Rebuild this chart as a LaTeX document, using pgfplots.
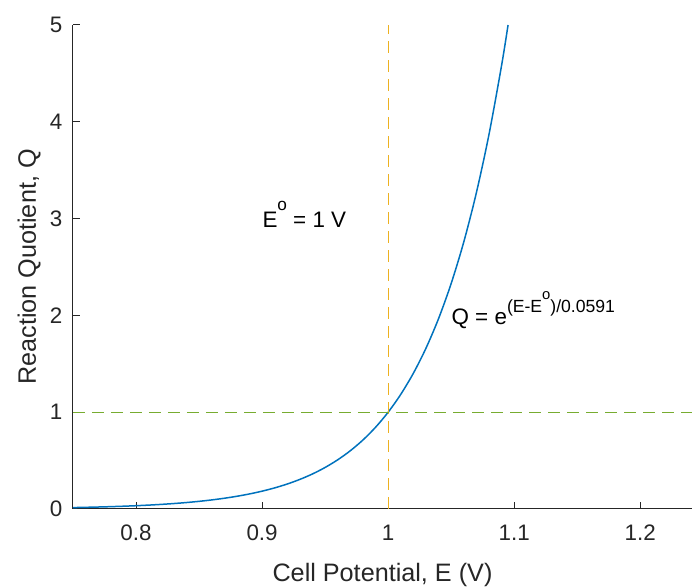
\documentclass[border=0pt]{standalone}
\usepackage{pgfplots}
\pgfplotsset{compat=1.18}
\usepackage{fontspec}
\setmainfont{Liberation Sans}

\definecolor{mblue}{rgb}{0,0.447,0.741}
\definecolor{morange}{rgb}{0.929,0.694,0.125}
\definecolor{mgreen}{rgb}{0.466,0.674,0.188}
\definecolor{axgray}{rgb}{0.15,0.15,0.15}

% raised text: size, raise, text
\newcommand\up[3]{\raisebox{#2}{\fontsize{#1}{#1}\selectfont #3}}

% Q = exp((E - E0)/0.0591) with E0 = 1 V
\pgfplotstableread{
E      Q
0.750  0.01455
0.760  0.01723
0.770  0.02041
0.780  0.02417
0.790  0.02863
0.800  0.03391
0.810  0.04016
0.820  0.04757
0.830  0.05634
0.840  0.06673
0.850  0.07903
0.860  0.09361
0.870  0.1109
0.880  0.1313
0.890  0.1555
0.900  0.1842
0.910  0.2181
0.920  0.2583
0.930  0.3059
0.940  0.3623
0.950  0.4291
0.960  0.5083
0.970  0.6020
0.980  0.7129
0.990  0.8443
1.000  1.0000
1.010  1.1844
1.020  1.4027
1.030  1.6613
1.040  1.9676
1.050  2.3303
1.060  2.7599
1.070  3.2687
1.080  3.8712
1.090  4.5850
1.0951 5.0000
}\nernst

\begin{document}
\begin{tikzpicture}
\path[use as bounding box] (-36.5pt,-39pt) rectangle (309.5pt,254.5pt);
\begin{axis}[
  scale only axis,
  width=309.5pt, height=242pt,
  xmin=0.75, xmax=1.241,
  ymin=0, ymax=5,
  axis x line*=bottom, axis y line*=left,
  axis line style={axgray, line width=0.5pt, -},
  tick align=inside,
  major tick length=3.3pt,
  tick style={axgray, line width=0.5pt},
  xtick={0.8,0.9,1,1.1,1.2},
  ytick={0,1,2,3,4,5},
  xticklabels={0.8,0.9,1,1.1,1.2},
  yticklabels={0,1,2,3,4,5},
  ticklabel style={font=\fontsize{11.2}{13}\selectfont, text=axgray},
  xticklabel style={yshift=-4.5pt},
  yticklabel style={xshift=-1.8pt},
  xlabel={Cell Potential, E (V)},
  ylabel={Reaction Quotient, Q},
  label style={font=\fontsize{12.6}{15}\selectfont, text=axgray},
  xlabel style={at={(axis description cs:0.5,-0.1488)}, anchor=base},
  ylabel style={at={(axis description cs:-0.060,0.5)}, anchor=base},
  clip=false,
]
\addplot[mblue, line width=0.75pt, smooth] table[x=E, y=Q] {\nernst};
\addplot[morange, line width=0.6pt, dash pattern=on 6pt off 3.5pt] coordinates {(1,0) (1,5)};
\addplot[mgreen, line width=0.6pt, dash pattern=on 6pt off 3.5pt] coordinates {(0.75,1) (1.241,1)};
\node[anchor=base west, font=\fontsize{11.2}{13}\selectfont, inner sep=0pt] at (axis cs:0.9,2.91)
  {E\up{8.6pt}{8.2pt}{o} = 1 V};
\node[anchor=base west, font=\fontsize{11.2}{13}\selectfont, inner sep=0pt] at (axis cs:1.05,1.91)
  {Q = e\up{8.8pt}{5.8pt}{(E-E\up{7.4pt}{6.4pt}{o})/0.0591}};
\end{axis}
\end{tikzpicture}
\end{document}
